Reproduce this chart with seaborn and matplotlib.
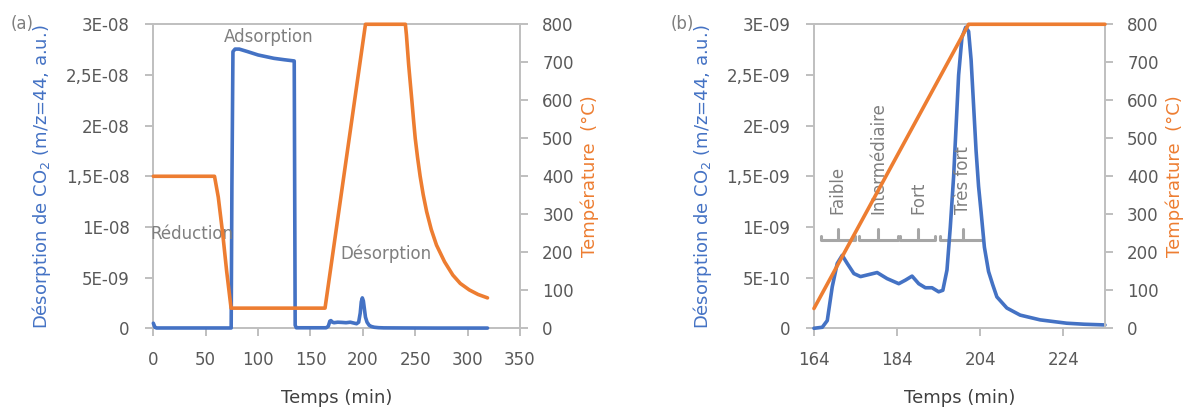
import matplotlib
matplotlib.use("Agg")
import matplotlib.pyplot as plt
import numpy as np
import seaborn as sns


BLUE = "#4472C4"
ORANGE = "#ED7D31"
GRID_GRAY = "#BFBFBF"
TICK_GRAY = "#595959"
NOTE_GRAY = "#7F7F7F"

# (a) full cycle: CO2 signal (in 1E-09 a.u.) and temperature
time_a_co2 = [0, 1.5, 3, 74.3, 75.0, 76.0, 78, 82, 90, 100, 115, 125, 134.5,
              135.4, 136.5, 150, 165, 167, 168.5, 169.5, 171, 172.5, 176, 180,
              184, 188, 192, 194, 196, 197.5, 198.5, 199.5, 200.5, 201.5,
              202.5, 204, 206, 208, 211, 215, 220, 240, 270, 300, 319]
co2_a = [0.5, 0.1, 0.03, 0.03, 14.0, 27.3, 27.55, 27.55, 27.3, 26.97, 26.64,
         26.5, 26.38, 0.3, 0.05, 0.05, 0.05, 0.2, 0.7, 0.76, 0.6, 0.55, 0.6,
         0.58, 0.55, 0.6, 0.5, 0.45, 0.6, 1.5, 2.6, 3.0, 2.7, 1.9, 1.1, 0.6,
         0.3, 0.18, 0.1, 0.06, 0.04, 0.03, 0.02, 0.02, 0.02]

time_a_temp = [0, 58.4, 62, 66.3, 70, 74.2, 163.9, 202.5, 240.6, 241.6, 242.6,
               243.75, 245.3, 246.9, 248.4, 250, 252.2, 254.7, 257.6, 260.9,
               265.3, 270.3, 278, 285.9, 293, 301.6, 310, 319]
temp_a = [400, 400, 345, 247, 150, 53, 53, 800, 800, 772, 735, 693, 645, 596,
          548, 500, 450, 400, 352, 307, 260, 219, 175, 140, 118, 101, 89, 80]

# (b) zoom on the desorption step
time_b_co2 = [164, 166, 167.2, 168.4, 169.6, 170.8, 172, 173.6, 175.2, 177.2,
              179.2, 181.6, 184.4, 186, 187.6, 189.2, 190.8, 192.4, 194, 195,
              196, 196.8, 197.6, 198.2, 198.8, 199.6, 200.5, 201.2, 201.8,
              202.4, 203.0, 203.6, 204.2, 205.0, 206.0, 207.0, 208, 210.4,
              213.6, 218.4, 224.8, 229, 234]
co2_b = [0, 0.01, 0.076, 0.41, 0.64, 0.72, 0.64, 0.54, 0.51, 0.53, 0.55, 0.49,
         0.44, 0.475, 0.515, 0.44, 0.40, 0.40, 0.36, 0.375, 0.575, 1.0, 1.5,
         2.0, 2.5, 2.87, 2.97, 2.93, 2.65, 2.2, 1.75, 1.4, 1.15, 0.8, 0.56,
         0.43, 0.31, 0.2, 0.13, 0.083, 0.05, 0.04, 0.033]

time_b_temp = [164, 201.2, 234]
temp_b = [52, 800, 800]

# axis ticks
xticks_a = [0, 50, 100, 150, 200, 250, 300, 350]
yticks_a = [0, 5e-9, 1e-8, 1.5e-8, 2e-8, 2.5e-8, 3e-8]
ylabels_a = ["0", "5E-09", "1E-08", "1,5E-08", "2E-08", "2,5E-08", "3E-08"]
xticks_b = [164, 184, 204, 224]
yticks_b = [0, 5e-10, 1e-9, 1.5e-9, 2e-9, 2.5e-9, 3e-9]
ylabels_b = ["0", "5E-10", "1E-09", "1,5E-09", "2E-09", "2,5E-09", "3E-09"]
temp_ticks = [0, 100, 200, 300, 400, 500, 600, 700, 800]

# site strength groups in (b): start, end, centre (min)
site_names = ["Faible", "Intermédiaire", "Fort", "Très fort"]
site_start = [165.6, 174.8, 184.8, 194.4]
site_end = [173.8, 184.2, 193.2, 204.6]
site_mid = [169.7, 179.5, 189.1, 199.8]

sns.set_theme(style="white")
plt.rcParams["font.family"] = ["DejaVu Sans"]
plt.rcParams["mathtext.fontset"] = "dejavusans"

FS_TICK = 12
FS_LABEL = 13

fig = plt.figure(figsize=(11.97, 4.12), dpi=100)
ax_a = fig.add_axes([0.1281, 0.2032, 0.3063, 0.7379])
ax_b = fig.add_axes([0.6800, 0.2032, 0.2431, 0.7379])


def style_pair(ax, tx):
    for a in (ax, tx):
        for side in a.spines.values():
            side.set_color(GRID_GRAY)
            side.set_linewidth(1.4)
        a.tick_params(colors=GRID_GRAY, labelcolor=TICK_GRAY, labelsize=FS_TICK,
                      length=5.5, width=1.4, direction="out")
    # keep one copy of each frame line so the curves can sit above it
    for side in ("left", "top", "bottom"):
        tx.spines[side].set_visible(False)
    ax.spines["right"].set_visible(False)
    ax.spines["right"].set_visible(False)
    ax.tick_params(axis="x", pad=10.5, bottom=True)
    ax.tick_params(axis="y", pad=11.5, left=True)
    tx.tick_params(axis="y", pad=10.5, right=True)
    ax.grid(False)
    tx.grid(False)


def draw_panel(ax, t_co2, co2, t_temp, temp, xlim, xticks, yticks, ylabels, ymax):
    sns.lineplot(x=t_co2, y=np.array(co2) * 1e-9, ax=ax, color=BLUE,
                 linewidth=2.6, sort=False, clip_on=False, zorder=3)
    ax.set_xlim(*xlim)
    ax.set_ylim(0, ymax)
    ax.set_xticks(xticks)
    ax.set_xticklabels([str(v) for v in xticks])
    ax.set_yticks(yticks)
    ax.set_yticklabels(ylabels)
    ax.set_xlabel("Temps (min)", fontsize=FS_LABEL, color="#404040", labelpad=15)
    ax.set_ylabel(r"Désorption de CO$_2$ (m/z=44, a.u.)", fontsize=FS_LABEL,
                  color=BLUE, labelpad=9)

    tx = ax.twinx()
    sns.lineplot(x=t_temp, y=temp, ax=tx, color=ORANGE, linewidth=2.6,
                 sort=False, clip_on=False, zorder=3)
    tx.set_ylim(0, 800)
    tx.set_yticks(temp_ticks)
    tx.set_yticklabels([str(v) for v in temp_ticks])
    tx.set_ylabel("Température  (°C)", fontsize=FS_LABEL, color=ORANGE,
                  labelpad=5)
    style_pair(ax, tx)
    return tx


tx_a = draw_panel(ax_a, time_a_co2, co2_a, time_a_temp, temp_a, (0, 350),
                  xticks_a, yticks_a, ylabels_a, 3e-8)
tx_b = draw_panel(ax_b, time_b_co2, co2_b, time_b_temp, temp_b, (164, 234),
                  xticks_b, yticks_b, ylabels_b, 3e-9)

# step names in (a)
ax_a.text(-2.8, 9.3e-9, "Réduction", fontsize=FS_TICK, color=NOTE_GRAY,
          ha="left", va="center", zorder=5)
ax_a.text(67.8, 28.75e-9, "Adsorption", fontsize=FS_TICK, color=NOTE_GRAY,
          ha="left", va="center", zorder=5)
ax_a.text(178.7, 7.33e-9, "Désorption", fontsize=FS_TICK, color=NOTE_GRAY,
          ha="left", va="center", zorder=5)

# brackets and site labels in (b)
y_base, y_tip, y_mid = 0.875e-9, 0.915e-9, 0.975e-9
for name, s, e, m in zip(site_names, site_start, site_end, site_mid):
    ax_b.plot([s, s, e, e], [y_tip, y_base, y_base, y_tip], color="#A6A6A6",
              linewidth=2.2, solid_joinstyle="round", zorder=1)
    ax_b.plot([m, m], [y_base, y_mid], color="#A6A6A6", linewidth=2.2, zorder=1)
    ax_b.text(m, 1.13e-9, name, rotation=90, fontsize=FS_TICK, color=NOTE_GRAY,
              ha="center", va="bottom")

fig.text(0.009, 0.941, "(a)", fontsize=FS_TICK, color=NOTE_GRAY, ha="left",
         va="center")
fig.text(0.5605, 0.941, "(b)", fontsize=FS_TICK, color=NOTE_GRAY, ha="left",
         va="center")

fig.savefig("out.png", dpi=100)
